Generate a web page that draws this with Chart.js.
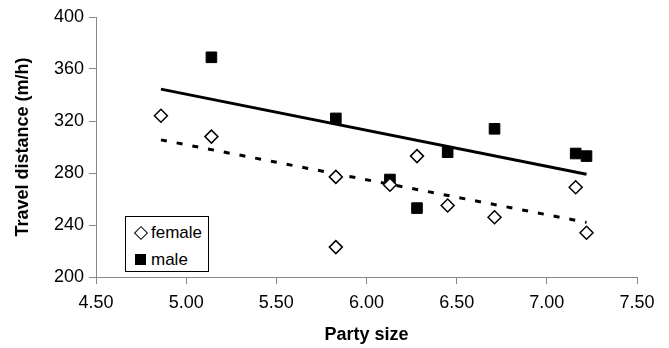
<!DOCTYPE html>
<html>
<head>
<meta charset="utf-8">
<script src="https://cdn.jsdelivr.net/npm/chart.js@4/dist/chart.umd.min.js"></script>
<style>
  body { margin: 0; background: #fff; }
  #wrap { position: relative; width: 669px; height: 348px; }
  #legend {
    position: absolute; left: 125px; top: 216px; width: 82px; height: 54px;
    border: 1px solid #000; background: #fff;
    font: 17px "Liberation Sans", Arial, sans-serif; color: #000;
  }
  .item { position: absolute; left: 0; height: 20px; line-height: 20px; white-space: nowrap; }
  .item span.txt { position: absolute; left: 25px; top: 0; }
  .dia { position: absolute; left: 10px; top: 5px; width: 8px; height: 8px; border: 1.5px solid #000; transform: rotate(45deg); background: #fff; }
  .sq { position: absolute; left: 9px; top: 4px; width: 11px; height: 11px; background: #000; }
</style>
</head>
<body>
<div id="wrap">
  <canvas id="chart"></canvas>
  <div id="legend">
    <div class="item" style="top:6px"><i class="dia"></i><span class="txt">female</span></div>
    <div class="item" style="top:33px"><i class="sq"></i><span class="txt">male</span></div>
  </div>
</div>
<script>
// party size vs travel distance
const femaleX = [4.86, 5.14, 5.83, 5.83, 6.13, 6.28, 6.45, 6.71, 7.16, 7.22];
const femaleY = [324, 308, 277, 223, 271, 293, 255, 246, 269, 234];
const maleX = [5.14, 5.83, 6.13, 6.28, 6.45, 6.71, 7.16, 7.22];
const maleY = [369, 322, 275, 253, 296, 314, 295, 293];

// trend line end points
const femaleTrendX = [4.86, 7.22];
const femaleTrendY = [305.5, 242];
const maleTrendX = [4.86, 7.22];
const maleTrendY = [344.5, 279];

const xTicks = [4.5, 5.0, 5.5, 6.0, 6.5, 7.0, 7.5];
const yTicks = [200, 240, 280, 320, 360, 400];

function pts(xs, ys) {
    return xs.map((x, i) => ({ x: x, y: ys[i] }));
}

const axisColor = '#878787';
const tickFont = { family: '"Liberation Sans", Arial, sans-serif', size: 18 };
const titleFont = { family: '"Liberation Sans", Arial, sans-serif', size: 18, weight: 'bold' };

new Chart(document.getElementById('chart').getContext('2d'), {
    type: 'scatter',
    data: {
        datasets: [
            {
                label: 'female',
                data: pts(femaleX, femaleY),
                pointStyle: 'rectRot',
                pointRadius: 6.5,
                pointBackgroundColor: '#fff',
                pointBorderColor: '#000',
                pointBorderWidth: 1.5,
                order: 1
            },
            {
                label: 'male',
                data: pts(maleX, maleY),
                pointStyle: 'rect',
                pointRadius: 7.5,
                pointBackgroundColor: '#000',
                pointBorderColor: '#000',
                pointBorderWidth: 1,
                order: 1
            },
            {
                label: 'female trend',
                data: pts(femaleTrendX, femaleTrendY),
                showLine: true,
                pointRadius: 0,
                borderColor: '#000',
                borderWidth: 3,
                borderDash: [6, 10],
                order: 2
            },
            {
                label: 'male trend',
                data: pts(maleTrendX, maleTrendY),
                showLine: true,
                pointRadius: 0,
                borderColor: '#000',
                borderWidth: 3,
                order: 2
            }
        ]
    },
    options: {
        responsive: true,
        maintainAspectRatio: false,
        animation: false,
        layout: { padding: { top: 17, right: 32, bottom: 0, left: 0 } },
        plugins: {
            legend: { display: false },
            tooltip: { enabled: false }
        },
        scales: {
            x: {
                type: 'linear',
                min: xTicks[0],
                max: xTicks[xTicks.length - 1],
                afterBuildTicks: (s) => { s.ticks = xTicks.map(v => ({ value: v })); },
                afterFit: (s) => { s.height = 71; },
                ticks: {
                    color: '#000',
                    font: tickFont,
                    padding: 8,
                    maxRotation: 0,
                    callback: (v) => Number(v).toFixed(2)
                },
                grid: { drawOnChartArea: false, drawTicks: true, tickLength: 7, color: axisColor },
                border: { display: true, color: axisColor, width: 1 },
                title: { display: true, text: 'Party size', color: '#000', font: titleFont, padding: { top: 0, bottom: 2 } }
            },
            y: {
                type: 'linear',
                min: yTicks[0],
                max: yTicks[yTicks.length - 1],
                afterBuildTicks: (s) => { s.ticks = yTicks.map(v => ({ value: v })); },
                afterFit: (s) => { s.width = 96; },
                ticks: {
                    color: '#000',
                    font: tickFont,
                    padding: 5
                },
                grid: { drawOnChartArea: false, drawTicks: true, tickLength: 7, color: axisColor },
                border: { display: true, color: axisColor, width: 1 },
                title: { display: true, text: 'Travel distance (m/h)', color: '#000', font: titleFont, padding: { top: 12, bottom: 0 } }
            }
        }
    }
});
</script>
</body>
</html>
